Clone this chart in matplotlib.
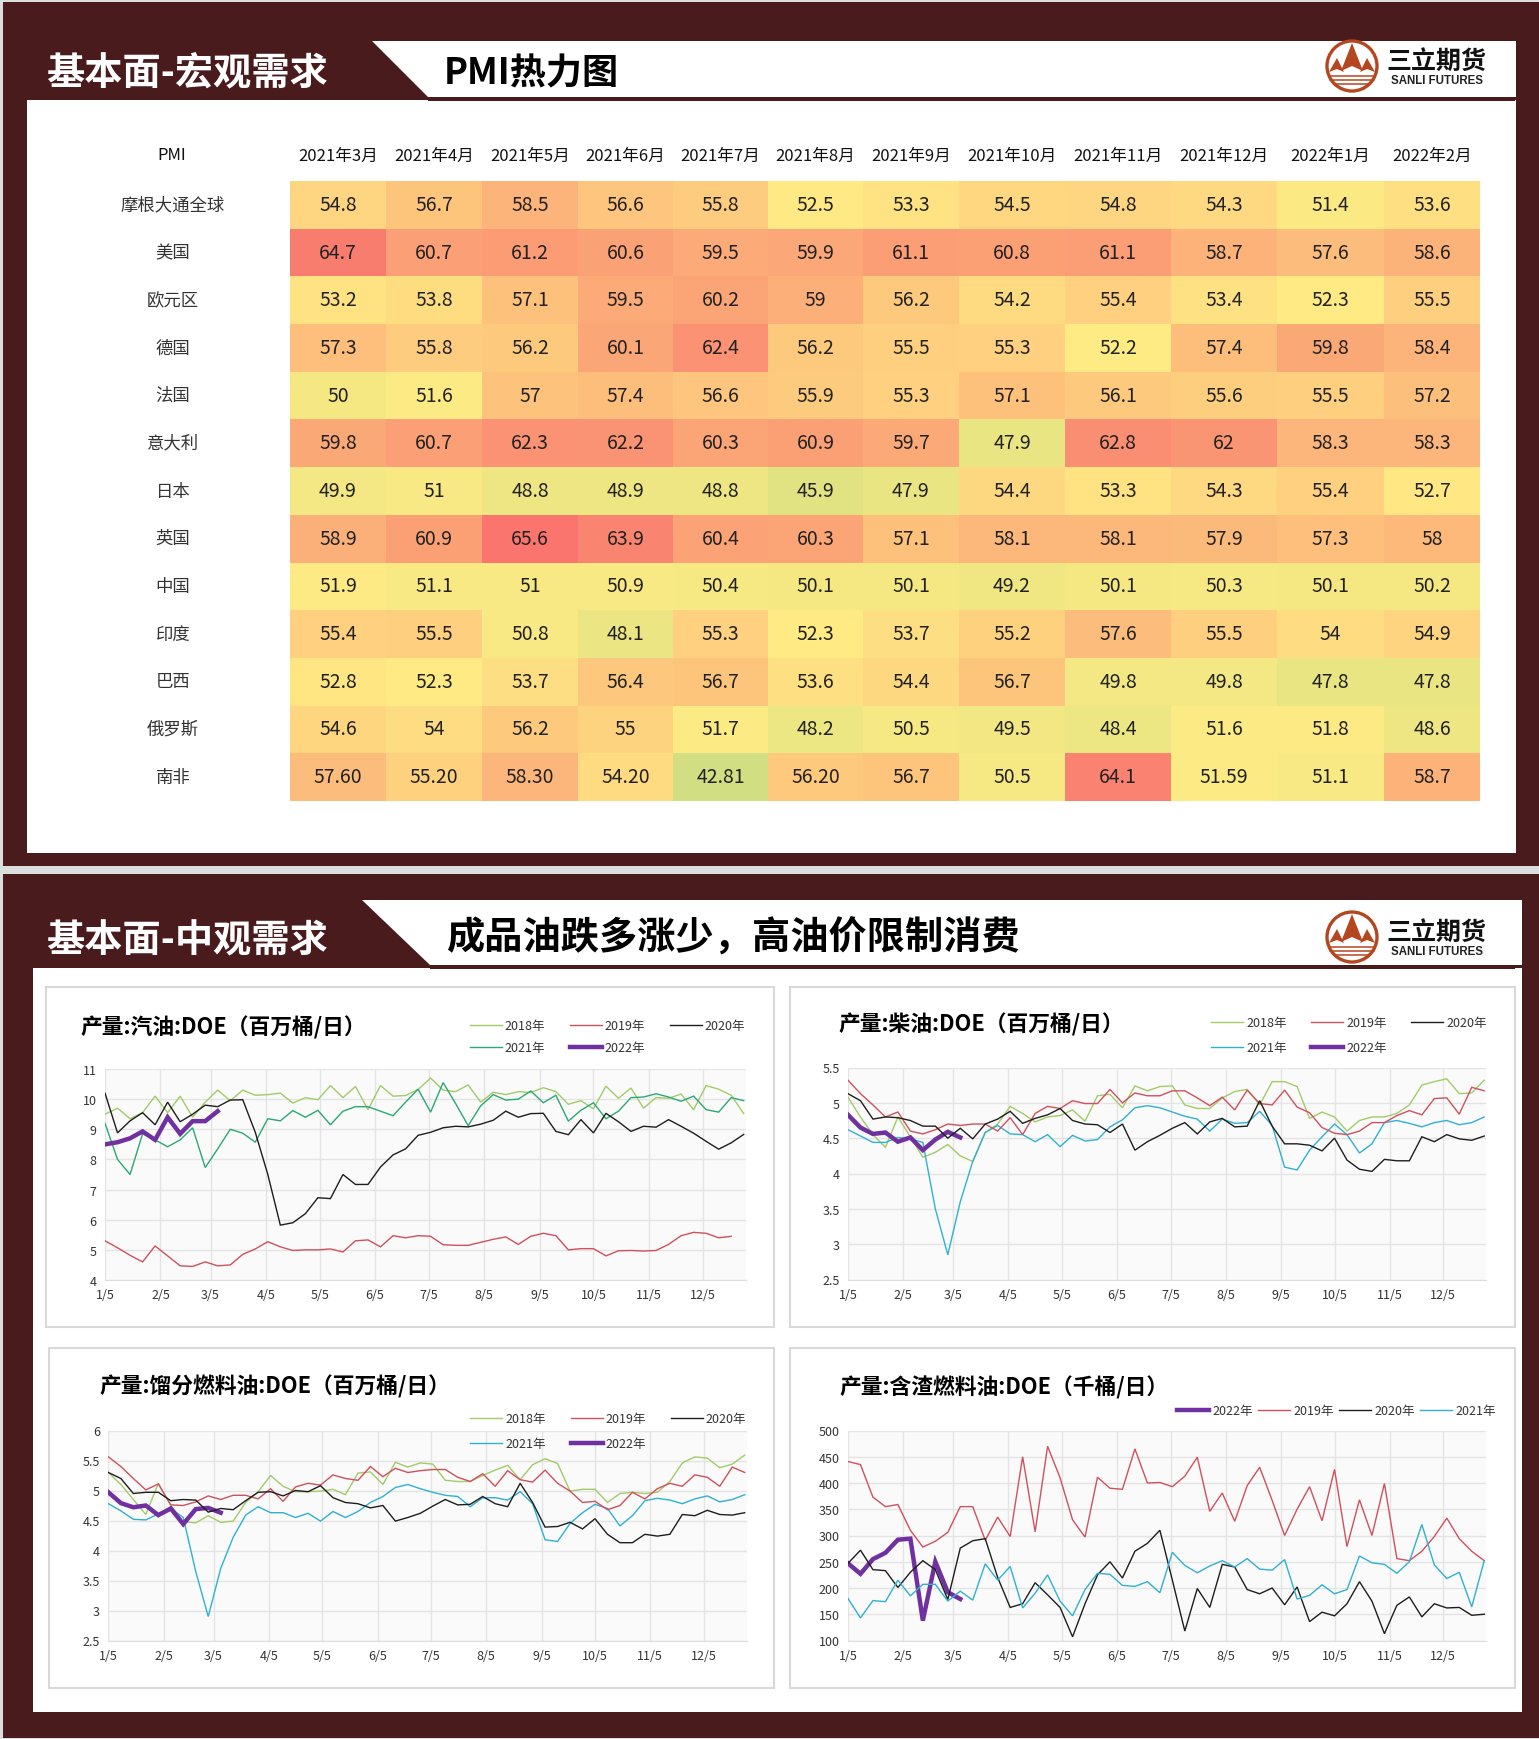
# -*- coding: utf-8 -*-
import numpy as np
import matplotlib
matplotlib.use('Agg')
import matplotlib.pyplot as plt
from matplotlib.colors import LinearSegmentedColormap, TwoSlopeNorm
from matplotlib.patches import Rectangle, Polygon, Circle

plt.rcParams['font.family'] = ['Noto Sans CJK SC', 'DejaVu Sans']
plt.rcParams['axes.unicode_minus'] = False

W, H = 1539, 1740
DARK = '#4A1B1D'

# PMI table, kept as text because the table shows 57.60 and 59 as they are
months = ['2021年3月', '2021年4月', '2021年5月', '2021年6月', '2021年7月', '2021年8月',
          '2021年9月', '2021年10月', '2021年11月', '2021年12月', '2022年1月', '2022年2月']
regions = ['摩根大通全球', '美国', '欧元区', '德国', '法国', '意大利', '日本',
           '英国', '中国', '印度', '巴西', '俄罗斯', '南非']
pmi_global = ['54.8', '56.7', '58.5', '56.6', '55.8', '52.5', '53.3', '54.5', '54.8', '54.3', '51.4', '53.6']
pmi_us = ['64.7', '60.7', '61.2', '60.6', '59.5', '59.9', '61.1', '60.8', '61.1', '58.7', '57.6', '58.6']
pmi_euro = ['53.2', '53.8', '57.1', '59.5', '60.2', '59', '56.2', '54.2', '55.4', '53.4', '52.3', '55.5']
pmi_de = ['57.3', '55.8', '56.2', '60.1', '62.4', '56.2', '55.5', '55.3', '52.2', '57.4', '59.8', '58.4']
pmi_fr = ['50', '51.6', '57', '57.4', '56.6', '55.9', '55.3', '57.1', '56.1', '55.6', '55.5', '57.2']
pmi_it = ['59.8', '60.7', '62.3', '62.2', '60.3', '60.9', '59.7', '47.9', '62.8', '62', '58.3', '58.3']
pmi_jp = ['49.9', '51', '48.8', '48.9', '48.8', '45.9', '47.9', '54.4', '53.3', '54.3', '55.4', '52.7']
pmi_uk = ['58.9', '60.9', '65.6', '63.9', '60.4', '60.3', '57.1', '58.1', '58.1', '57.9', '57.3', '58']
pmi_cn = ['51.9', '51.1', '51', '50.9', '50.4', '50.1', '50.1', '49.2', '50.1', '50.3', '50.1', '50.2']
pmi_in = ['55.4', '55.5', '50.8', '48.1', '55.3', '52.3', '53.7', '55.2', '57.6', '55.5', '54', '54.9']
pmi_br = ['52.8', '52.3', '53.7', '56.4', '56.7', '53.6', '54.4', '56.7', '49.8', '49.8', '47.8', '47.8']
pmi_ru = ['54.6', '54', '56.2', '55', '51.7', '48.2', '50.5', '49.5', '48.4', '51.6', '51.8', '48.6']
pmi_za = ['57.60', '55.20', '58.30', '54.20', '42.81', '56.20', '56.7', '50.5', '64.1', '51.59', '51.1', '58.7']
pmi_rows = [pmi_global, pmi_us, pmi_euro, pmi_de, pmi_fr, pmi_it, pmi_jp,
            pmi_uk, pmi_cn, pmi_in, pmi_br, pmi_ru, pmi_za]

tick_days = [0, 31, 59, 90, 120, 151, 181, 212, 243, 273, 304, 334]
tick_labels = ['1/5', '2/5', '3/5', '4/5', '5/5', '6/5', '7/5', '8/5', '9/5', '10/5', '11/5', '12/5']

# gasoline
gas_2018 = [9.5, 9.7, 9.35, 9.55, 10.1, 9.55, 10.1, 9.4, 9.9, 10.3, 9.95, 10.3, 10.13, 10.15, 10.2, 9.87, 10.05,
            9.98, 10.45, 10.05, 10.42, 9.65, 10.45, 10.1, 10.12, 10.32, 10.7, 10.3, 10.25, 10.47, 9.9, 10.23, 10.15,
            10.25, 10.22, 10.38, 10.25, 9.83, 9.95, 9.68, 10.43, 10.03, 10.37, 9.7, 10.05, 10.03, 10.17, 9.65,
            10.45, 10.33, 10.13, 9.52]
gas_2019 = [5.3, 5.07, 4.82, 4.6, 5.13, 4.8, 4.47, 4.45, 4.6, 4.47, 4.5, 4.85, 5.03, 5.27, 5.1, 4.98, 5.0, 5.0,
            5.03, 4.93, 5.3, 5.33, 5.1, 5.47, 5.4, 5.47, 5.45, 5.17, 5.15, 5.15, 5.25, 5.35, 5.43, 5.18, 5.45, 5.55,
            5.47, 5.0, 5.04, 5.04, 4.8, 4.97, 4.98, 4.96, 4.98, 5.18, 5.47, 5.58, 5.55, 5.4, 5.45]
gas_2020 = [10.2, 8.88, 9.28, 9.55, 9.15, 9.9, 9.25, 9.5, 9.8, 9.75, 9.97, 9.98, 8.9, 7.5, 5.82, 5.9, 6.2, 6.73,
            6.7, 7.5, 7.17, 7.17, 7.75, 8.15, 8.35, 8.8, 8.9, 9.05, 9.1, 9.08, 9.17, 9.3, 9.6, 9.4, 9.52, 9.53, 8.93,
            8.82, 9.32, 8.88, 9.53, 9.25, 8.93, 9.1, 9.07, 9.32, 9.1, 8.87, 8.6, 8.34, 8.55, 8.83]
gas_2021 = [9.2, 8.0, 7.5, 8.85, 8.65, 8.42, 8.65, 9.05, 7.73, 8.35, 9.0, 8.87, 8.57, 9.35, 9.28, 9.62, 9.4, 9.63,
            9.15, 9.6, 9.75, 9.75, 9.6, 9.45, 9.9, 10.33, 9.57, 10.55, 9.85, 9.12, 9.78, 10.15, 9.97, 10.0, 10.27,
            9.88, 10.13, 9.27, 9.63, 9.88, 9.35, 9.6, 10.05, 10.07, 10.18, 10.07, 9.93, 10.1, 9.65, 9.57, 10.05, 9.95]
gas_2022 = [8.5, 8.57, 8.7, 8.93, 8.65, 9.4, 8.85, 9.27, 9.27, 9.6]

# diesel
die_2018 = [5.08, 4.8, 4.55, 4.37, 4.8, 4.52, 4.23, 4.3, 4.41, 4.25, 4.17, 4.58, 4.7, 4.95, 4.85, 4.73, 4.8, 4.82,
            4.9, 4.74, 5.1, 5.12, 4.93, 5.24, 5.17, 5.23, 5.24, 4.97, 4.92, 4.92, 5.07, 5.16, 5.19, 4.97, 5.3, 5.3,
            5.23, 4.78, 4.87, 4.8, 4.6, 4.75, 4.8, 4.8, 4.85, 4.97, 5.25, 5.3, 5.34, 5.13, 5.14, 5.32]
die_2019 = [5.32, 5.13, 4.97, 4.8, 4.87, 4.6, 4.56, 4.62, 4.7, 4.68, 4.7, 4.7, 4.6, 4.79, 4.55, 4.85, 4.95, 4.92,
            5.03, 4.99, 4.99, 5.19, 5.0, 5.14, 5.1, 5.1, 5.17, 5.17, 5.07, 4.96, 5.08, 4.9, 5.18, 4.99, 4.97, 5.18,
            4.94, 4.86, 4.65, 4.57, 4.55, 4.6, 4.72, 4.72, 4.82, 4.89, 4.83, 5.06, 5.07, 4.84, 5.22, 5.17]
die_2020 = [5.13, 5.03, 4.77, 4.8, 4.79, 4.75, 4.67, 4.67, 4.5, 4.64, 4.49, 4.7, 4.77, 4.88, 4.71, 4.78, 4.83, 4.92,
            4.75, 4.7, 4.69, 4.58, 4.7, 4.33, 4.45, 4.54, 4.64, 4.72, 4.56, 4.73, 4.78, 4.66, 4.67, 5.03, 4.67, 4.42,
            4.42, 4.4, 4.32, 4.5, 4.19, 4.06, 4.03, 4.2, 4.18, 4.18, 4.52, 4.45, 4.55, 4.49, 4.47, 4.53]
die_2021 = [4.62, 4.53, 4.44, 4.44, 4.51, 4.49, 4.44, 3.5, 2.85, 3.6, 4.17, 4.58, 4.68, 4.56, 4.55, 4.45, 4.55, 4.38,
            4.54, 4.46, 4.48, 4.66, 4.76, 4.93, 4.96, 4.93, 4.87, 4.81, 4.77, 4.6, 4.77, 4.71, 4.72, 4.88, 4.68, 4.09,
            4.05, 4.33, 4.52, 4.7, 4.55, 4.29, 4.42, 4.72, 4.75, 4.71, 4.66, 4.72, 4.75, 4.69, 4.72, 4.8]
die_2022 = [4.83, 4.65, 4.56, 4.58, 4.45, 4.51, 4.33, 4.48, 4.59, 4.51]

# distillate fuel oil
dis_2018 = [5.3, 5.1, 4.85, 4.6, 5.12, 4.75, 4.48, 4.46, 4.58, 4.47, 4.49, 4.8, 4.98, 5.25, 5.07, 4.98, 4.98, 4.99,
            5.02, 4.93, 5.29, 5.31, 5.1, 5.47, 5.39, 5.46, 5.44, 5.17, 5.15, 5.15, 5.25, 5.34, 5.42, 5.18, 5.43, 5.53,
            5.45, 4.99, 5.02, 5.02, 4.8, 4.95, 4.97, 4.95, 4.97, 5.15, 5.46, 5.56, 5.54, 5.38, 5.44, 5.59]
dis_2019 = [5.56, 5.4, 5.2, 5.01, 5.11, 4.76, 4.75, 4.81, 4.91, 4.85, 4.92, 4.92, 4.86, 5.03, 4.82, 5.06, 5.12, 5.09,
            5.26, 5.2, 5.17, 5.4, 5.23, 5.37, 5.3, 5.33, 5.35, 5.35, 5.22, 5.15, 5.28, 5.07, 5.33, 5.18, 5.14, 5.34,
            5.12, 4.99, 4.8, 4.82, 4.68, 4.75, 4.97, 4.86, 5.03, 5.12, 5.07, 5.26, 5.22, 5.07, 5.39, 5.3]
dis_2020 = [5.3, 5.2, 4.95, 4.97, 4.97, 4.83, 4.85, 4.84, 4.64, 4.7, 4.68, 4.83, 4.97, 4.98, 4.91, 5.0, 4.98, 5.08,
            4.88, 4.8, 4.78, 4.71, 4.75, 4.49, 4.55, 4.62, 4.74, 4.85, 4.76, 4.77, 4.9, 4.78, 4.73, 5.12, 4.8, 4.39,
            4.4, 4.47, 4.36, 4.53, 4.27, 4.13, 4.13, 4.27, 4.24, 4.27, 4.6, 4.58, 4.67, 4.6, 4.59, 4.63]
dis_2021 = [4.78, 4.66, 4.52, 4.51, 4.61, 4.7, 4.55, 3.65, 2.9, 3.7, 4.22, 4.59, 4.73, 4.63, 4.63, 4.55, 4.62, 4.49,
            4.65, 4.55, 4.65, 4.8, 4.9, 5.05, 5.1, 5.03, 4.97, 4.92, 4.9, 4.73, 4.88, 4.88, 4.84, 4.98, 4.78, 4.18,
            4.15, 4.45, 4.63, 4.77, 4.7, 4.41, 4.58, 4.83, 4.87, 4.84, 4.78, 4.86, 4.91, 4.81, 4.85, 4.93]
dis_2022 = [4.97, 4.79, 4.72, 4.75, 4.59, 4.7, 4.44, 4.69, 4.71, 4.63]

# residual fuel oil
res_2019 = [441, 435, 373, 355, 359, 310, 278, 289, 306, 355, 355, 291, 335, 298, 450, 307, 470, 410, 330, 297, 411,
            390, 388, 465, 400, 401, 393, 413, 449, 346, 381, 327, 395, 430, 367, 300, 350, 393, 328, 426, 279, 368,
            300, 399, 256, 252, 270, 298, 333, 294, 270, 252]
res_2020 = [247, 272, 235, 233, 201, 230, 252, 235, 178, 276, 290, 294, 220, 163, 170, 210, 187, 163, 107, 170, 225,
            250, 219, 270, 285, 310, 215, 118, 199, 163, 245, 240, 197, 189, 200, 168, 202, 136, 154, 147, 170, 212,
            175, 113, 167, 183, 145, 170, 162, 163, 148, 150]
res_2021 = [180, 143, 176, 174, 215, 185, 207, 207, 175, 194, 177, 246, 215, 241, 162, 190, 225, 175, 147, 197, 228,
            226, 205, 203, 212, 191, 268, 243, 229, 242, 252, 240, 256, 236, 234, 254, 179, 186, 206, 189, 197, 261,
            248, 245, 228, 250, 321, 244, 218, 230, 164, 252]
res_2022 = [247, 227, 255, 267, 292, 294, 138, 250, 192, 179]

c_2018 = '#A3CB68'
c_2019 = '#D0505E'
c_2020 = '#1E1E1E'
c_2021 = '#2FB1D2'
c_2021g = '#2BA876'
c_2022 = '#7030A0'

fig = plt.figure(figsize=(W / 100, H / 100), dpi=100, facecolor='#DCDDDD')
bg = fig.add_axes([0, 0, 1, 1])
bg.set_xlim(0, W)
bg.set_ylim(H, 0)
bg.axis('off')


def rect(x0, y0, x1, y1, fc, ec='none', lw=0):
    bg.add_patch(Rectangle((x0, y0), x1 - x0, y1 - y0, facecolor=fc, edgecolor=ec, linewidth=lw))


def logo(cy):
    cx = 1352
    brown = '#B4471F'
    bg.add_patch(Circle((cx, cy), 25, facecolor='white', edgecolor=brown, linewidth=2.4))
    bg.add_patch(Polygon([(cx - 11, cy + 5), (cx, cy - 23), (cx + 11, cy + 5), (cx, cy)], facecolor=brown))
    bg.add_patch(Polygon([(cx - 23, cy + 6), (cx - 15, cy - 8), (cx - 8, cy + 6), (cx - 15, cy + 3)], facecolor=brown))
    bg.add_patch(Polygon([(cx + 8, cy + 6), (cx + 15, cy - 8), (cx + 23, cy + 6), (cx + 15, cy + 3)], facecolor=brown))
    for dy, half in [(10, 23), (14, 22), (18, 18)]:
        bg.plot([cx - half, cx + half], [cy + dy, cy + dy], color=brown, lw=1.1)
    bg.text(1436, cy - 5, '三立期货', fontsize=18, fontweight='bold', color='#111111', ha='center', va='center')
    bg.text(1437, cy + 14, 'SANLI FUTURES', fontsize=8.3, family=['Liberation Sans'], fontweight='bold',
            color='#222222', ha='center', va='center')


def header(y_top, y_bot, x_top, x_bot, right, title, y_title, sub, y_sub, x_sub, sub_size, y_logo):
    bg.add_patch(Polygon([(x_top, y_top), (right, y_top), (right, y_bot), (x_bot, y_bot)], facecolor='white'))
    rect(x_bot, y_bot, 1515, y_bot + 4, DARK)
    bg.text(46, y_title, title, fontsize=27.5, fontweight='bold', color='white', ha='left', va='center')
    bg.text(x_sub, y_sub, sub, fontsize=sub_size, fontweight='bold', color='black', ha='left', va='center')
    logo(y_logo)


# slide frames
rect(3, 3, W, 867, DARK)
rect(3, 875, W, 1739, DARK)
rect(27, 101, 1516, 854, 'white')
rect(33, 969, 1522, 1713, 'white')
header(42, 98, 372, 428, 1516, '基本面-宏观需求', 73, 'PMI热力图', 74, 444, 26, 67)
header(901, 966, 362, 430, 1522, '基本面-中观需求', 941, '成品油跌多涨少\uff0c高油价限制消费', 938, 446, 27.5, 938)

# heat table
col_edges = [290, 386, 482, 578, 673, 768, 863, 959, 1065, 1171, 1277, 1384, 1480]
row_edges = np.linspace(182, 802, len(regions) + 1)
pmi_values = np.array([[float(v) for v in row] for row in pmi_rows])
cmap = LinearSegmentedColormap.from_list('pmi', ['#63BE7B', '#FFEB84', '#F8696B'])
norm = TwoSlopeNorm(vmin=19.5, vcenter=52.3, vmax=67)
bg.pcolormesh(col_edges, row_edges, pmi_values, cmap=cmap, norm=norm, edgecolors='face', linewidth=0)
for j, m in enumerate(months):
    bg.text((col_edges[j] + col_edges[j + 1]) / 2, 156, m, fontsize=12, color='#111111', ha='center', va='center')
bg.text(172, 156, 'PMI', fontsize=12, color='#111111', ha='center', va='center')
for i, name in enumerate(regions):
    y = (row_edges[i] + row_edges[i + 1]) / 2 - 0.5
    bg.text(173, y, name, fontsize=12.5, color='#333333', ha='center', va='center')
    for j, label in enumerate(pmi_rows[i]):
        bg.text((col_edges[j] + col_edges[j + 1]) / 2, y, label, fontsize=14, color='#222222',
                ha='center', va='center')


def chart(box, area, title, title_xy, series, ylim, yticks, leg_xy, leg_ncol, leg_cols, leg_rows):
    rect(box[0], box[1], box[2], box[3], 'white', ec='#D9D9D9', lw=1.5)
    bg.text(title_xy[0], title_xy[1], title, fontsize=15.7, fontweight='bold', color='black', ha='left', va='center')
    l, t, r, b = area
    ax = fig.add_axes([l / W, 1 - b / H, (r - l) / W, (b - t) / H], facecolor='#FAFAFA')
    for values, colour, label, lw in series:
        ax.plot(np.arange(len(values)) * 7, values, color=colour, lw=lw, label=label, solid_joinstyle='miter')
    ax.set_xlim(0, 358)
    ax.set_ylim(*ylim)
    ax.set_xticks(tick_days)
    ax.set_xticklabels(tick_labels)
    ax.set_yticks(yticks)
    ax.set_yticklabels(['%g' % v for v in yticks])
    ax.tick_params(length=0, labelsize=9, labelcolor='#333333', pad=6)
    ax.grid(True, color='#E4E4E4', lw=1)
    ax.set_axisbelow(True)
    for s in ax.spines.values():
        s.set_visible(False)
    ax.spines['bottom'].set_visible(True)
    ax.spines['bottom'].set_color('#DDDDDD')
    handles, labels = ax.get_legend_handles_labels()
    ax.legend(handles, labels, loc='upper left', bbox_to_anchor=(leg_xy[0] / W, 1 - leg_xy[1] / H),
              bbox_transform=fig.transFigure, ncol=leg_ncol, frameon=False, fontsize=9, borderpad=0,
              borderaxespad=0, handlelength=2.56, handletextpad=0.25, columnspacing=leg_cols, labelspacing=leg_rows,
              labelcolor='#333333')


y_gas = [4, 5, 6, 7, 8, 9, 10, 11]
y_die = [2.5, 3, 3.5, 4, 4.5, 5, 5.5]
y_dis = [2.5, 3, 3.5, 4, 4.5, 5, 5.5, 6]
y_res = [100, 150, 200, 250, 300, 350, 400, 450, 500]
thin = 1.0
bold = 3.2

# legend fills columns first, so each list is given column by column
chart((45.5, 988, 774, 1328), (105, 1070, 745.5, 1281), '产量:汽油:DOE\uff08百万桶/日\uff09', (80, 1028),
      [(gas_2018, c_2018, '2018年', thin), (gas_2021, c_2021g, '2021年', thin), (gas_2019, c_2019, '2019年', thin),
       (gas_2022, c_2022, '2022年', bold), (gas_2020, c_2020, '2020年', thin)],
      (4, 11), y_gas, (469.5, 1020), 3, 1.96, 0.75)
chart((790, 988, 1515, 1328), (848, 1068.5, 1486, 1280.5), '产量:柴油:DOE\uff08百万桶/日\uff09', (838, 1025),
      [(die_2018, c_2018, '2018年', thin), (die_2021, c_2021, '2021年', thin), (die_2019, c_2019, '2019年', thin),
       (die_2022, c_2022, '2022年', bold), (die_2020, c_2020, '2020年', thin)],
      (2.5, 5.5), y_die, (1211, 1017), 3, 1.96, 0.95)
chart((48.5, 1349, 774, 1689), (108.4, 1431.5, 746.5, 1641.5), '产量:馏分燃料油:DOE\uff08百万桶/日\uff09', (99, 1387),
      [(dis_2018, c_2018, '2018年', thin), (dis_2021, c_2021, '2021年', thin), (dis_2019, c_2019, '2019年', thin),
       (dis_2022, c_2022, '2022年', bold), (dis_2020, c_2020, '2020年', thin)],
      (2.5, 6), y_dis, (470.4, 1413), 3, 1.96, 0.95)
chart((790, 1349, 1515, 1689), (848, 1431.5, 1486, 1641.5), '产量:含渣燃料油:DOE\uff08千桶/日\uff09', (839, 1388),
      [(res_2022, c_2022, '2022年', bold), (res_2019, c_2019, '2019年', thin), (res_2020, c_2020, '2020年', thin),
       (res_2021, c_2021, '2021年', thin)],
      (100, 500), y_res, (1177, 1405), 4, 0.44, 0.5)

fig.savefig('out.png', dpi=100, facecolor=fig.get_facecolor())
